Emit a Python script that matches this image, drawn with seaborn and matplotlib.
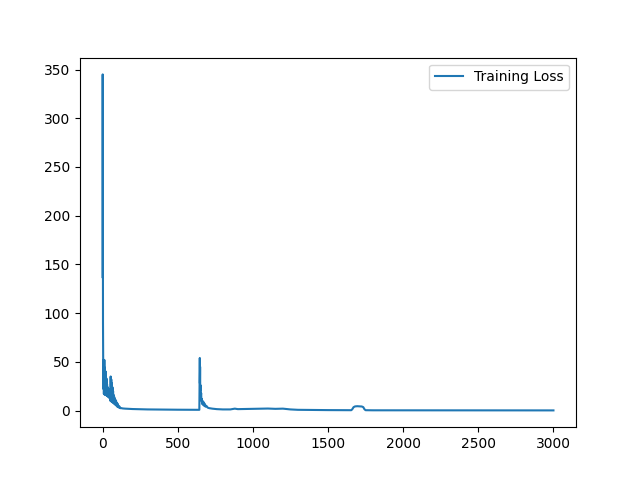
import numpy as np
import pandas as pd
import seaborn as sns
import matplotlib
matplotlib.use("Agg")
import matplotlib.pyplot as plt

# epoch / loss values
epochs = [0, 1, 2, 3, 4, 5, 6, 7, 8, 9, 10, 11, 12, 13, 14, 15, 16, 17, 18, 19,
          20, 21, 22, 23, 24, 25, 26, 28, 30, 32, 34, 36, 38, 40, 42, 44, 46, 48,
          50, 52, 54, 56, 58, 60, 62, 64, 66, 68, 70, 72, 74, 76, 78, 80, 82, 84,
          86, 88, 90, 92, 95, 98, 101, 104, 107, 110, 114, 118, 125, 135, 150, 175,
          200, 250, 300, 400, 500, 600, 640, 644, 646, 647, 648, 649, 650, 652,
          654, 656, 658, 660, 662, 665, 668, 671, 675, 680, 685, 690, 700, 710,
          730, 760, 800, 850, 880, 900, 950, 1000, 1050, 1100, 1150, 1200, 1250,
          1300, 1400, 1500, 1600, 1655, 1662, 1670, 1680, 1695, 1710, 1725, 1735,
          1742, 1750, 1800, 2000, 2200, 2500, 2800, 3000]
loss = [137, 345, 200, 90, 45, 30, 52, 22, 48, 17, 38, 20, 52, 18, 34, 16, 44,
        19, 30, 17, 36, 22, 40, 16, 28, 18, 33, 15, 27, 17, 24, 14, 22, 16, 20,
        13, 18, 15, 22, 10, 35, 12, 32, 9, 28, 11, 24, 8, 20, 10, 16, 7, 14, 9,
        12, 6, 11, 7, 10, 5, 8, 4, 7, 3.5, 5, 3, 4, 2.5, 2.5, 2.2, 2, 1.8, 1.6,
        1.4, 1.2, 1.0, 0.9, 0.8, 0.7, 0.8, 30, 54, 28, 45, 20, 26, 14, 18, 10, 12,
        7, 10, 6, 9, 5, 7, 4, 5, 3, 2.5, 2, 1.5, 1.2, 1.2, 2, 1.5, 1.6, 1.8, 2,
        2.1, 1.8, 2, 1.2, 0.8, 0.6, 0.5, 0.4, 0.4, 1.5, 3.5, 4.3, 4.5, 4.3, 4.2,
        3.5, 1.5, 0.4, 0.3, 0.3, 0.2, 0.2, 0.2, 0.2]

df = pd.DataFrame({"epoch": epochs, "loss": loss})

fig, ax = plt.subplots(figsize=(6.4, 4.8), dpi=100)
sns.lineplot(data=df, x="epoch", y="loss", ax=ax, color="#1f77b4",
             label="Training Loss", linewidth=1.5)
ax.set_xlabel("")
ax.set_ylabel("")
ax.legend(loc="upper right")
plt.savefig("out.png", dpi=100)
